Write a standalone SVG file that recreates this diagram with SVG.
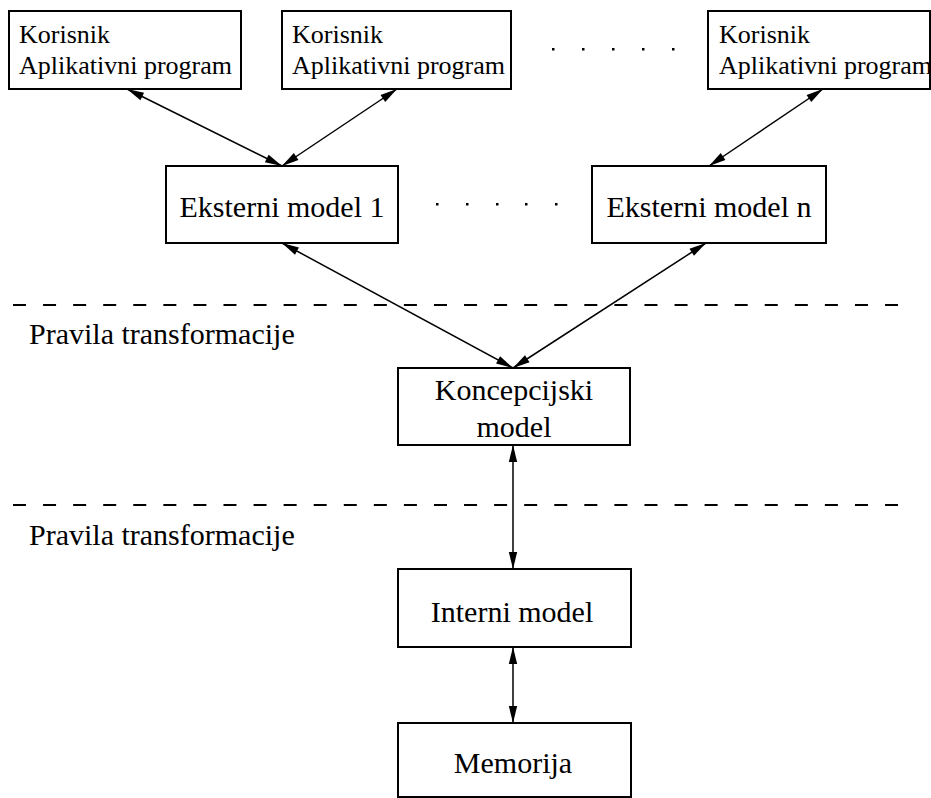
<svg xmlns="http://www.w3.org/2000/svg" width="931" height="798" viewBox="0 0 931 798">
  <style>
    .box { fill: #ffffff; stroke: #000000; stroke-width: 2; }
    .t { font-family: 'Liberation Serif', 'Times New Roman', serif; fill: #000000; }
    .sm { font-size: 26px; }
    .lg { font-size: 30px; }
    .mid { text-anchor: middle; }
    .link { stroke: #000000; stroke-width: 1.5; fill: none; marker-start: url(#head); marker-end: url(#head); }
    .sep { stroke: #000000; stroke-width: 2; stroke-dasharray: 13 17.07; fill: none; }
    .dot { fill: #000000; }
  </style>
  <defs>
    <marker id="head" markerUnits="userSpaceOnUse" viewBox="-18 -5 19 10" refX="0" refY="0" markerWidth="19" markerHeight="10" orient="auto-start-reverse">
      <path d="M0,0 L-17,-4.2 L-17,4.2 z" fill="#000000"/>
    </marker>
  </defs>

  <rect width="931" height="798" fill="#ffffff"/>

  <!-- layer separators -->
  <g id="separators">
    <line class="sep" x1="13" y1="305" x2="899" y2="305"/>
    <text class="t lg" x="29" y="344">Pravila transformacije</text>
    <line class="sep" x1="13" y1="505" x2="899" y2="505"/>
    <text class="t lg" x="29" y="545">Pravila transformacije</text>
  </g>

  <!-- ellipsis dots between repeated nodes -->
  <g id="ellipsis-top">
    <rect class="dot" x="552" y="48" width="2.5" height="2.5"/>
    <rect class="dot" x="582" y="48" width="2.5" height="2.5"/>
    <rect class="dot" x="612" y="48" width="2.5" height="2.5"/>
    <rect class="dot" x="642" y="48" width="2.5" height="2.5"/>
    <rect class="dot" x="672" y="48" width="2.5" height="2.5"/>
  </g>
  <g id="ellipsis-mid">
    <rect class="dot" x="436" y="203" width="2.5" height="2.5"/>
    <rect class="dot" x="466" y="203" width="2.5" height="2.5"/>
    <rect class="dot" x="496" y="203" width="2.5" height="2.5"/>
    <rect class="dot" x="525" y="203" width="2.5" height="2.5"/>
    <rect class="dot" x="555" y="203" width="2.5" height="2.5"/>
  </g>

  <!-- connectors -->
  <g id="connectors">
    <line class="link" x1="127" y1="89" x2="282" y2="166"/>
    <line class="link" x1="397" y1="89" x2="282" y2="166"/>
    <line class="link" x1="823" y1="89" x2="709" y2="166"/>
    <line class="link" x1="282" y1="243" x2="513" y2="368"/>
    <line class="link" x1="706" y1="243" x2="513" y2="368"/>
    <line class="link" x1="513" y1="445" x2="513" y2="569"/>
    <line class="link" x1="513" y1="647" x2="513" y2="723"/>
  </g>

  <!-- user / application program nodes -->
  <g id="korisnik-1">
    <rect class="box" x="9" y="11" width="232" height="78"/>
    <text class="t sm" x="19" y="43">Korisnik</text>
    <text class="t sm" x="19" y="74">Aplikativni program</text>
  </g>
  <g id="korisnik-2">
    <rect class="box" x="282" y="11" width="229" height="78"/>
    <text class="t sm" x="292" y="43">Korisnik</text>
    <text class="t sm" x="292" y="74">Aplikativni program</text>
  </g>
  <g id="korisnik-n">
    <rect class="box" x="708" y="11" width="222" height="78"/>
    <text class="t sm" x="719" y="43">Korisnik</text>
    <text class="t sm" x="719" y="74">Aplikativni program</text>
  </g>

  <!-- external models -->
  <g id="eksterni-1">
    <rect class="box" x="166" y="166" width="232" height="77"/>
    <text class="t lg mid" x="282" y="217">Eksterni model 1</text>
  </g>
  <g id="eksterni-n">
    <rect class="box" x="592" y="166" width="234" height="77"/>
    <text class="t lg mid" x="709" y="217">Eksterni model n</text>
  </g>

  <!-- conceptual model -->
  <g id="koncepcijski">
    <rect class="box" x="398" y="368" width="232" height="77"/>
    <text class="t lg mid" x="514" y="400">Koncepcijski</text>
    <text class="t lg mid" x="514" y="437">model</text>
  </g>

  <!-- internal model -->
  <g id="interni">
    <rect class="box" x="398" y="569" width="233" height="78"/>
    <text class="t lg mid" x="512" y="622">Interni model</text>
  </g>

  <!-- storage -->
  <g id="memorija">
    <rect class="box" x="398" y="723" width="233" height="74"/>
    <text class="t lg mid" x="513" y="773">Memorija</text>
  </g>
</svg>
